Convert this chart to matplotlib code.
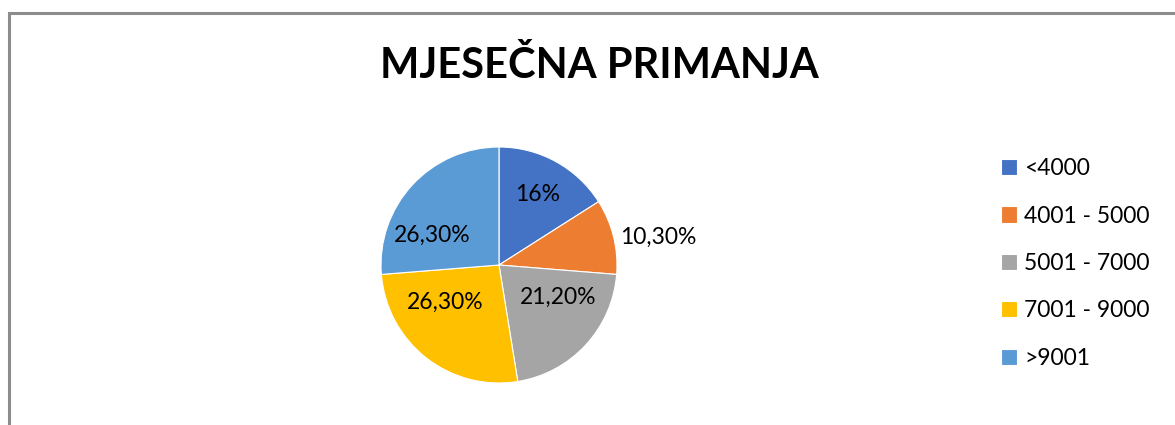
import matplotlib
matplotlib.use('Agg')
import matplotlib.pyplot as plt
import numpy as np
from matplotlib.patches import Rectangle

# Data
categories = ['<4000', '4001 - 5000', '5001 - 7000', '7001 - 9000', '>9001']
shares = [16.0, 10.3, 21.2, 26.3, 26.3]
value_labels = ['16%', '10,30%', '21,20%', '26,30%', '26,30%']
colors = ['#4472C4', '#ED7D31', '#A5A5A5', '#FFC000', '#5B9BD5']

plt.rcParams['font.family'] = ['Lato', 'DejaVu Sans']

W, H = 1175, 425
fig = plt.figure(figsize=(W / 100, H / 100), dpi=100)

# grey chart frame (cut by the right and bottom edges)
fig.patches.append(Rectangle((9 / W, -0.05), 1.2, (H - 13) / H + 0.05,
                             transform=fig.transFigure, fill=False,
                             edgecolor='#8c8c8c', linewidth=2.2))

fig.text(599 / W, 1 - 65 / H, 'MJESEČNA PRIMANJA', ha='center', va='center',
         fontsize=30, fontweight='bold', color='black')

# pie: centre (499, 265) px, radius 118 px
r_px = 118
cx, cy = 499, 265
ax = fig.add_axes([(cx - 200) / W, (H - cy - 150) / H, 400 / W, 300 / H])
wedges, _ = ax.pie(shares, colors=colors, startangle=90, counterclock=False,
                   radius=1, wedgeprops=dict(edgecolor='white', linewidth=0.8))
ax.set_xlim(-200 / r_px, 200 / r_px)
ax.set_ylim(-150 / r_px, 150 / r_px)
ax.set_aspect('auto')
ax.axis('off')

# label placement (radius fraction, angle shift in degrees)
placement = [(0.68, 0), (1.37, -4), (0.57, 14), (0.56, -17), (0.62, 19)]
for w, txt, (rf, shift) in zip(wedges, value_labels, placement):
    ang = np.deg2rad((w.theta1 + w.theta2) / 2 + shift)
    ax.text(rf * np.cos(ang), rf * np.sin(ang), txt, ha='center', va='center',
            fontsize=16.5, color='black')

fig.legend(wedges, categories, loc='upper left',
           bbox_to_anchor=(992 / W, 1 - 149 / H), frameon=False,
           fontsize=16.5, handlelength=0.7, handleheight=0.7,
           handletextpad=0.3, labelspacing=1.15, borderaxespad=0)

fig.savefig('out.png', dpi=100)
